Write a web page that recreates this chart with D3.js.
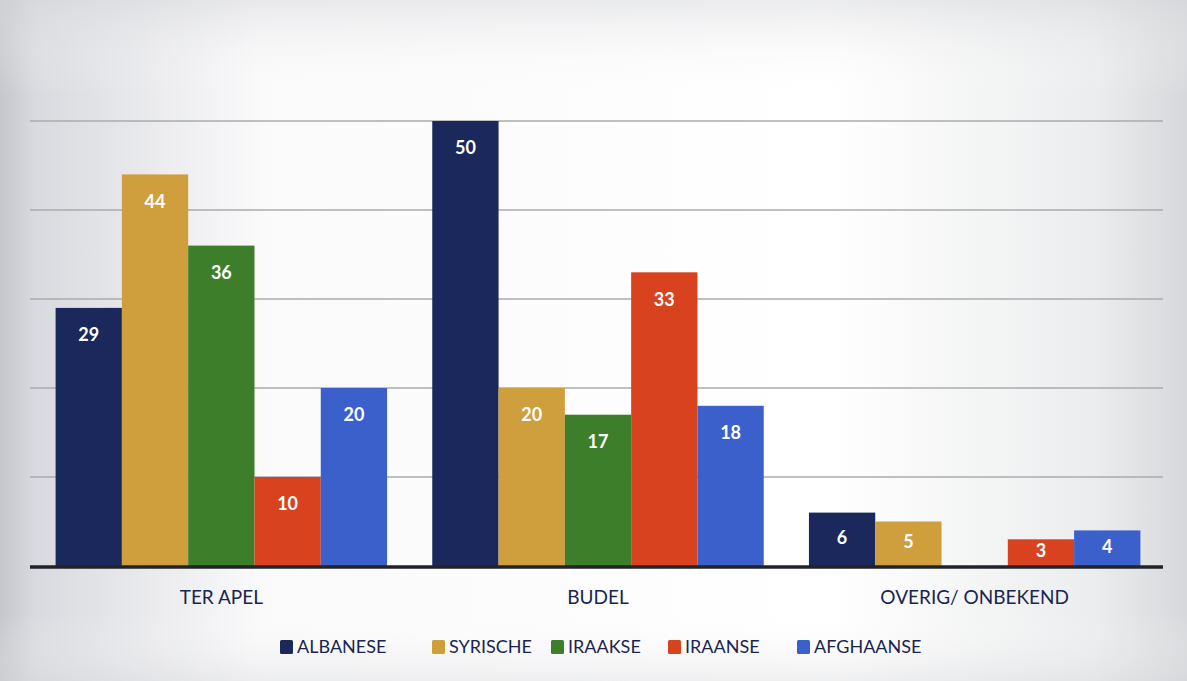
<!DOCTYPE html>
<html><head><meta charset="utf-8">
<script src="https://cdn.jsdelivr.net/npm/d3@7"></script>
<style>html,body{margin:0;padding:0;background:#fff;}svg{display:block;}</style>
</head><body>
<svg id="chart" width="1187" height="681"></svg>
<script>
const categories = ["TER APEL", "BUDEL", "OVERIG/ ONBEKEND"];
const seriesNames = ["ALBANESE", "SYRISCHE", "IRAAKSE", "IRAANSE", "AFGHAANSE"];
const albanese  = [29, 50, 6];
const syrische  = [44, 20, 5];
const iraakse   = [36, 17, null];
const iraanse   = [10, 33, 3];
const afghaanse = [20, 18, 4];
const yTicks = [0, 10, 20, 30, 40, 50];
const colors = ["#1b285c", "#cf9e3d", "#3d7e2b", "#d8421f", "#3b60cc"];

const seriesValues = [albanese, syrische, iraakse, iraanse, afghaanse];
const W = 1187, H = 681;
const FONT = "Lato, 'Open Sans', sans-serif";
const svg = d3.select("#chart");
const defs = svg.append("defs");
const g1 = defs.append("linearGradient").attr("id","bgH").attr("x1","0").attr("x2","1").attr("y1","0").attr("y2","0");
[["0%","#c4c6cb"],["3%","#d9dadf"],["22%","#fafafb"],["70%","#ffffff"],["92%","#ecedee"],["100%","#d7d8db"]].forEach(s=>g1.append("stop").attr("offset",s[0]).attr("stop-color",s[1]));
const g2 = defs.append("linearGradient").attr("id","bgV").attr("x1","0").attr("x2","0").attr("y1","0").attr("y2","1");
[["0%","#d6d7da",0.5],["14%","#ffffff",0],["90%","#ffffff",0],["100%","#d8d9dc",0.4]].forEach(s=>g2.append("stop").attr("offset",s[0]).attr("stop-color",s[1]).attr("stop-opacity",s[2]));
svg.append("rect").attr("width",W).attr("height",H).attr("fill","url(#bgH)");
svg.append("rect").attr("width",W).attr("height",H).attr("fill","url(#bgV)");

const x0 = d3.scaleBand().domain(categories).range([33, 1163]).paddingInner(0.12).paddingOuter(0.06);
const x1 = d3.scaleBand().domain(seriesNames).range([0, x0.bandwidth()]).padding(0);
const y = d3.scaleLinear().domain([0, 50]).range([566, 121]);

// gridlines
svg.append("g").selectAll("line").data(yTicks.filter(d=>d>0)).join("line")
  .attr("x1", 30).attr("x2", 1163).attr("y1", d=>y(d)).attr("y2", d=>y(d))
  .attr("stroke", "#a9abae").attr("stroke-width", 1.6);

// bars
const groups = svg.append("g").selectAll("g").data(categories).join("g")
  .attr("transform", d=>`translate(${x0(d)},0)`);
groups.each(function(cat, ci){
  const g = d3.select(this);
  const data = seriesNames.map((s,si)=>({s, si, v: seriesValues[si][ci]})).filter(d=>d.v!=null && d.v>0);
  g.selectAll("rect").data(data).join("rect")
    .attr("x", d=>x1(d.s)).attr("width", x1.bandwidth())
    .attr("y", d=>y(d.v)).attr("height", d=>y(0)-y(d.v))
    .attr("fill", d=>colors[d.si]);
  g.selectAll("text").data(data).join("text")
    .attr("x", d=>x1(d.s)+x1.bandwidth()/2)
    .attr("y", d=>Math.min(y(d.v)+27, (y(d.v)+y(0))/2 - 2))
    .attr("dy", "0.35em").attr("text-anchor","middle")
    .attr("fill","#ffffff").attr("font-family",FONT)
    .attr("font-weight","bold").attr("font-size",18)
    .text(d=>d.v);
});

// x axis
svg.append("line").attr("x1", 30).attr("x2", 1163).attr("y1", y(0)+1).attr("y2", y(0)+1)
  .attr("stroke", "#222328").attr("stroke-width", 3.5);
const xAxis = svg.append("g").attr("transform", `translate(0,${y(0)})`)
  .call(d3.axisBottom(x0).tickSize(0).tickPadding(25));
xAxis.select(".domain").remove();
xAxis.selectAll("text").attr("font-family",FONT).attr("font-size",19)
  .attr("fill","#1b2550");

// legend
const legendX = [280, 432, 551, 668, 797];
const leg = svg.append("g").selectAll("g").data(seriesNames).join("g")
  .attr("transform", (d,i)=>`translate(${legendX[i]},647)`);
leg.append("rect").attr("x",0).attr("y",-7).attr("width",13).attr("height",14).attr("rx",1.5).attr("fill",(d,i)=>colors[i]);
leg.append("text").attr("x",17).attr("dy","0.35em").attr("font-family",FONT)
  .attr("font-size",18).attr("fill","#1b2550").text(d=>d);
</script>
</body></html>
